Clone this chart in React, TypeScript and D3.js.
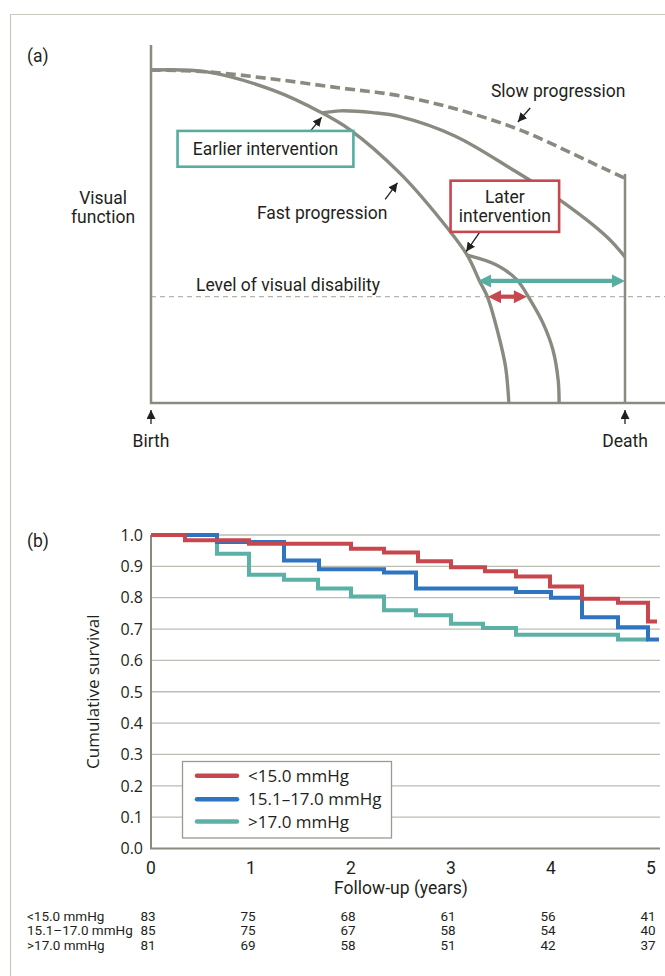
import React, { useEffect, useRef } from 'react';
import * as d3 from 'd3';

// ---- panel (a): schematic curves, x = life span (0 birth .. 100 death), y = visual function (0..100)
const fastCurve: [number, number][] = [
  [0, 93.0], [11.8, 92.5], [25.7, 87.4], [35.7, 81.3], [42.0, 76.3], [52.5, 64.2],
  [61.0, 51.4], [66.7, 41.3], [69.3, 34.1], [71.0, 29.6], [73.2, 19.6], [74.8, 10.1], [75.5, 0],
];
const earlierCurve: [number, number][] = [
  [36.1, 81.0], [39.9, 81.6], [46.8, 81.1], [52.5, 80.0], [64.1, 74.6], [76.4, 65.1],
  [86.3, 56.7], [96.2, 46.4], [100, 40.8],
];
const laterCurve: [number, number][] = [
  [66.7, 41.3], [73.0, 38.5], [77.2, 34.4], [80.0, 28.8], [82.7, 22.3], [84.8, 14.8], [85.9, 6.4], [86.1, 0],
];
const slowCurve: [number, number][] = [
  [0, 93.0], [11.8, 92.5], [25.7, 90.5], [39.9, 88.0], [52.5, 85.8], [65.2, 81.8],
  [77.8, 76.3], [89.5, 69.3], [96.2, 65.1], [100, 62.8],
];
const disabilityLevel = 29.7;
const deathLineTop = 64;
// annotation arrows [fromX, fromY, tipX, tipY]
const pointerArrows: [number, number, number, number][] = [
  [33.7, 76.1, 36.0, 79.8],
  [49.4, 56.9, 52.0, 61.5],
  [69.4, 47.8, 66.5, 42.3],
  [80.0, 82.4, 77.4, 78.5],
];
const gainArrows = [
  { x1: 69.0, x2: 100, y: 34.1, color: '#56ada0' },
  { x1: 71.1, x2: 79.3, y: 29.7, color: '#c8474f' },
];

// ---- panel (b): Kaplan-Meier steps
const years = [0, 1, 2, 3, 4, 5];
const yTicks = [0, 0.1, 0.2, 0.3, 0.4, 0.5, 0.6, 0.7, 0.8, 0.9, 1.0];
const lowTimes = [0, 0.34, 0.98, 2.0, 2.33, 2.67, 3.0, 3.34, 3.65, 3.99, 4.31, 4.67, 4.97, 5.06];
const lowSurv = [1.0, 0.983, 0.972, 0.956, 0.944, 0.916, 0.897, 0.884, 0.868, 0.836, 0.797, 0.784, 0.724, 0.724];
const midTimes = [0, 0.66, 1.33, 1.68, 2.33, 2.65, 3.65, 4.0, 4.31, 4.67, 4.97, 5.08];
const midSurv = [1.0, 0.978, 0.919, 0.891, 0.880, 0.829, 0.818, 0.800, 0.738, 0.706, 0.667, 0.667];
const highTimes = [0, 0.66, 0.98, 1.33, 1.67, 2.0, 2.33, 2.65, 3.0, 3.32, 3.65, 4.67, 4.97];
const highSurv = [1.0, 0.940, 0.873, 0.857, 0.829, 0.804, 0.760, 0.744, 0.717, 0.703, 0.682, 0.667, 0.667];
const groupLabels = ['<15.0 mmHg', '15.1–17.0 mmHg', '>17.0 mmHg'];
const groupColors = ['#c8474f', '#2e74c0', '#5bb1a6'];
const atRisk = [
  [83, 75, 68, 61, 56, 41],
  [85, 75, 67, 58, 54, 40],
  [81, 69, 58, 51, 42, 37],
];

const GREY = '#8a8a80';
const INK = '#231f20';
const COND = 'Roboto, "Liberation Sans", sans-serif';
const WIDE = '"Open Sans", "Noto Sans", sans-serif';

const App = () => {
  const ref = useRef<SVGSVGElement>(null);

  useEffect(() => {
    const svg = d3.select(ref.current);
    svg.selectAll('*').remove();

    // page frame
    svg.append('path')
      .attr('d', 'M10.5,976 V14.5 H665')
      .attr('fill', 'none').attr('stroke', '#c9c9bd').attr('stroke-width', 1.2);

    const defs = svg.append('defs');
    defs.append('marker')
      .attr('id', 'tip').attr('viewBox', '0 0 10 10').attr('refX', 10).attr('refY', 5)
      .attr('markerWidth', 9).attr('markerHeight', 9).attr('markerUnits', 'userSpaceOnUse')
      .attr('orient', 'auto')
      .append('path').attr('d', 'M0,0 L10,5 L0,10 Z').attr('fill', INK);

    // ================= panel (a)
    const xA = d3.scaleLinear().domain([0, 100]).range([151, 625]);
    const yA = d3.scaleLinear().domain([0, 100]).range([403, 45]);
    const a = svg.append('g');

    a.append('text').attr('x', 27).attr('y', 62).text('(a)')
      .attr('font-family', COND).attr('font-size', 17.5).attr('fill', INK);

    // disability level
    a.append('line')
      .attr('x1', xA(0)).attr('x2', 665).attr('y1', yA(disabilityLevel)).attr('y2', yA(disabilityLevel))
      .attr('stroke', '#b4b4ac').attr('stroke-width', 1.3).attr('stroke-dasharray', '5,4');

    // axes
    a.append('path')
      .attr('d', `M${xA(0)},${yA(100)} V${yA(0)} H665`)
      .attr('fill', 'none').attr('stroke', GREY).attr('stroke-width', 2.5);
    a.append('line')
      .attr('x1', xA(100)).attr('x2', xA(100)).attr('y1', yA(deathLineTop)).attr('y2', yA(0))
      .attr('stroke', GREY).attr('stroke-width', 2.5);

    const lineA = d3.line<[number, number]>()
      .x(d => xA(d[0])).y(d => yA(d[1]))
      .curve(d3.curveCatmullRom.alpha(0.5));

    a.append('path').attr('d', lineA(slowCurve))
      .attr('fill', 'none').attr('stroke', GREY).attr('stroke-width', 3.6)
      .attr('stroke-dasharray', '10,5');
    [fastCurve, earlierCurve, laterCurve].forEach(c => {
      a.append('path').attr('d', lineA(c))
        .attr('fill', 'none').attr('stroke', GREY).attr('stroke-width', 3.4);
    });

    // double arrows (gain in years of sight)
    gainArrows.forEach(g => {
      const x1 = xA(g.x1), x2 = xA(g.x2), y = yA(g.y);
      const L = 13, H = 6.5;
      a.append('line').attr('x1', x1 + L - 1).attr('x2', x2 - L + 1).attr('y1', y).attr('y2', y)
        .attr('stroke', g.color).attr('stroke-width', 4.2);
      a.append('path').attr('d', `M${x1},${y} L${x1 + L},${y - H} L${x1 + L},${y + H} Z`).attr('fill', g.color);
      a.append('path').attr('d', `M${x2},${y} L${x2 - L},${y - H} L${x2 - L},${y + H} Z`).attr('fill', g.color);
    });

    // small pointer arrows
    pointerArrows.forEach(p => {
      a.append('line')
        .attr('x1', xA(p[0])).attr('y1', yA(p[1])).attr('x2', xA(p[2])).attr('y2', yA(p[3]))
        .attr('stroke', INK).attr('stroke-width', 1.3).attr('marker-end', 'url(#tip)');
    });

    // boxes
    a.append('rect')
      .attr('x', xA(5.6)).attr('y', yA(76.0)).attr('width', xA(42.7) - xA(5.6)).attr('height', yA(66.0) - yA(76.0))
      .attr('fill', 'white').attr('stroke', '#56ada0').attr('stroke-width', 2.6);
    a.append('rect')
      .attr('x', xA(63.2)).attr('y', yA(62.1)).attr('width', xA(86.1) - xA(63.2)).attr('height', yA(47.8) - yA(62.1))
      .attr('fill', 'white').attr('stroke', '#c8474f').attr('stroke-width', 2.6);

    const labelA = (x: number, y: number, t: string, anchor = 'middle') =>
      a.append('text').attr('x', x).attr('y', y).attr('text-anchor', anchor)
        .attr('font-family', COND).attr('font-size', 17.5).attr('fill', INK).text(t);

    labelA(xA((5.6 + 42.7) / 2), yA(71) + 6.5, 'Earlier intervention');
    labelA(xA((63.2 + 86.1) / 2), yA(57.8) + 6.5, 'Later');
    labelA(xA((63.2 + 86.1) / 2), yA(52.3) + 6.5, 'intervention');
    labelA(xA(85.9), yA(87.2) + 6.5, 'Slow progression');
    labelA(xA(36.1), yA(53.1) + 6.5, 'Fast progression');
    labelA(xA(9.5), yA(33.0) + 6.5, 'Level of visual disability', 'start');
    labelA(xA(-10.1), yA(57.5) + 6.5, 'Visual');
    labelA(xA(-10.1), yA(52.2) + 6.5, 'function');

    // birth / death markers
    [[0, 'Birth'], [100, 'Death']].forEach(([v, t]) => {
      const x = xA(v as number);
      a.append('line').attr('x1', x).attr('x2', x).attr('y1', yA(0) + 21).attr('y2', yA(0) + 7)
        .attr('stroke', INK).attr('stroke-width', 1.3).attr('marker-end', 'url(#tip)');
      labelA(x, yA(0) + 44, t as string);
    });

    // ================= panel (b)
    const xB = d3.scaleLinear().domain([0, 5]).range([151, 651]);
    const yB = d3.scaleLinear().domain([0, 1]).range([848.5, 535]);
    const b = svg.append('g');

    b.append('text').attr('x', 27).attr('y', 547).text('(b)')
      .attr('font-family', COND).attr('font-size', 17.5).attr('fill', INK);

    b.selectAll('.grid').data(yTicks.slice(1)).enter().append('line')
      .attr('x1', xB(0)).attr('x2', 660).attr('y1', d => yB(d)).attr('y2', d => yB(d))
      .attr('stroke', '#bdbdb4').attr('stroke-width', 1.3);
    b.append('path')
      .attr('d', `M${xB(0)},${yB(1)} V${yB(0)} H660`)
      .attr('fill', 'none').attr('stroke', GREY).attr('stroke-width', 2);

    b.selectAll('.ytick').data(yTicks).enter().append('text')
      .attr('x', 143).attr('y', d => yB(d)).attr('dy', '0.36em').attr('text-anchor', 'end')
      .attr('font-family', WIDE).attr('font-size', 16).attr('fill', INK)
      .text(d => d3.format('.1f')(d));
    b.selectAll('.xtick').data(years).enter().append('text')
      .attr('x', d => xB(d)).attr('y', 874).attr('text-anchor', 'middle')
      .attr('font-family', COND).attr('font-size', 17.5).attr('fill', INK)
      .text(d => d);
    b.append('text').attr('x', xB(2.5)).attr('y', 894).attr('text-anchor', 'middle')
      .attr('font-family', COND).attr('font-size', 17.5).attr('fill', INK).text('Follow-up (years)');
    b.append('text')
      .attr('transform', `translate(99,${(yB(0) + yB(1)) / 2}) rotate(-90)`)
      .attr('text-anchor', 'middle')
      .attr('font-family', WIDE).attr('font-size', 17).attr('fill', INK).text('Cumulative survival');

    const step = d3.line<[number, number]>()
      .x(d => xB(d[0])).y(d => yB(d[1]))
      .curve(d3.curveStepAfter);
    const series = [
      { t: highTimes, s: highSurv, c: groupColors[2] },
      { t: midTimes, s: midSurv, c: groupColors[1] },
      { t: lowTimes, s: lowSurv, c: groupColors[0] },
    ];
    series.forEach(sr => {
      const pts = sr.t.map((t, i) => [t, sr.s[i]] as [number, number]);
      b.append('path').attr('d', step(pts))
        .attr('fill', 'none').attr('stroke', sr.c).attr('stroke-width', 4);
    });

    // legend
    const lg = b.append('g');
    lg.append('rect').attr('x', 182.5).attr('y', 761.5).attr('width', 209).attr('height', 76.5)
      .attr('fill', 'white').attr('stroke', '#9a9a90').attr('stroke-width', 1.3);
    const legendY = [775.7, 799.3, 821.5];
    groupLabels.forEach((g, i) => {
      lg.append('line').attr('x1', 197).attr('x2', 237).attr('y1', legendY[i]).attr('y2', legendY[i])
        .attr('stroke', groupColors[i]).attr('stroke-width', 4.5).attr('stroke-linecap', 'round');
      lg.append('text').attr('x', 248).attr('y', legendY[i]).attr('dy', '0.36em')
        .attr('font-family', WIDE).attr('font-size', 17).attr('fill', INK).text(g);
    });

    // number at risk
    const rowY = [920.5, 935, 949.5];
    groupLabels.forEach((g, i) => {
      b.append('text').attr('x', 27).attr('y', rowY[i])
        .attr('font-family', COND).attr('font-size', 13.5).attr('fill', INK).text(g);
      b.selectAll(`.risk${i}`).data(atRisk[i]).enter().append('text')
        .attr('x', (d, j) => xB(years[j]) - 3).attr('y', rowY[i]).attr('text-anchor', 'middle')
        .attr('font-family', COND).attr('font-size', 13.5).attr('fill', INK).text(d => d);
    });
  }, []);

  return (
    <svg ref={ref} width={665} height={976}
      style={{ position: 'absolute', left: 0, top: 0, background: 'white' }} />
  );
};

export default App;
